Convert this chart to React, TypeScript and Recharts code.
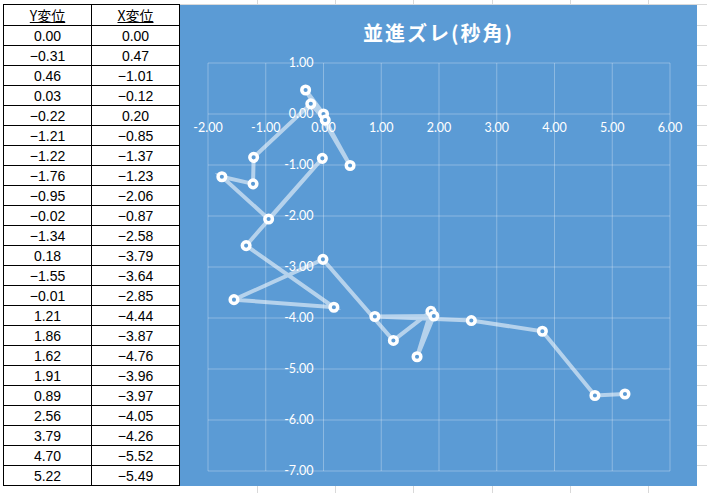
import React from "react";
import {
  CartesianGrid,
  ReferenceDot,
  Scatter,
  ScatterChart,
  XAxis,
  YAxis,
} from "recharts";

// 表の値（Y変位を横軸、X変位を縦軸に描く）
const yShift = [
  0.0, -0.31, 0.46, 0.03, -0.22, -1.21, -1.22, -1.76, -0.95, -0.02, -1.34, 0.18,
  -1.55, -0.01, 1.21, 1.86, 1.62, 1.91, 0.89, 2.56, 3.79, 4.7, 5.22,
];
const xShift = [
  0.0, 0.47, -1.01, -0.12, 0.2, -0.85, -1.37, -1.23, -2.06, -0.87, -2.58, -3.79,
  -3.64, -2.85, -4.44, -3.87, -4.76, -3.96, -3.97, -4.05, -4.26, -5.52, -5.49,
];
const xTicks = [-2, -1, 0, 1, 2, 3, 4, 5, 6];
const yTicks = [1, 0, -1, -2, -3, -4, -5, -6, -7];
const title = "並進ズレ(秒角)";
const headers = ["Y変位", "X変位"];

const points = yShift.map((x, i) => ({ x, y: xShift[i] }));

const BLUE = "#5B9BD5";
const fmt = (v: number) => v.toFixed(2);
const cellText = (v: number) => fmt(v).replace("-", "\u2212");

const sheetRows = Array.from({ length: 24 }, (_, i) => i);
const sheetCols = [257, 335, 413, 492, 570, 648];

const Marker = (props: any) => (
  <circle
    cx={props.cx}
    cy={props.cy}
    r={3.8}
    fill={BLUE}
    stroke="#ffffff"
    strokeWidth={3.5}
  />
);

const emptyTick = () => <g />;

const labelStyle = {
  fill: "#ffffff",
  fontSize: 12.5,
  fontFamily: "Lato, 'Open Sans', sans-serif",
};

const App = () => {
  return (
    <div
      style={{
        position: "absolute",
        left: 0,
        top: 0,
        width: 707,
        height: 493,
        background: "#ffffff",
        overflow: "hidden",
      }}
    >
      {/* シートの罫線 */}
      {sheetCols.map((c) => (
        <div
          key={"c" + c}
          style={{
            position: "absolute",
            left: c,
            top: 0,
            width: 1,
            height: 493,
            background: "#d9d9d9",
          }}
        />
      ))}
      {sheetRows.map((r) => (
        <div
          key={"r" + r}
          style={{
            position: "absolute",
            left: 180,
            top: 4 + (r === 0 ? 0 : 21 + (r - 1) * 20),
            width: 527,
            height: 1,
            background: "#d9d9d9",
          }}
        />
      ))}

      {/* 左の表 */}
      <table
        style={{
          position: "absolute",
          left: 3,
          top: 4,
          borderCollapse: "collapse",
          tableLayout: "fixed",
          background: "#ffffff",
          fontFamily: "'Liberation Sans', Arial, sans-serif",
          fontSize: 14,
          color: "#000",
        }}
      >
        <tbody>
          <tr style={{ height: 21 }}>
            {headers.map((h) => (
              <td
                key={h}
                style={{
                  width: 87,
                  border: "1px solid #000",
                  padding: 0,
                  textAlign: "center",
                  fontFamily: "'Noto Sans CJK JP', sans-serif",
                  textDecoration: "underline",
                  lineHeight: "19px",
                }}
              >
                {h}
              </td>
            ))}
          </tr>
          {yShift.map((v, i) => (
            <tr key={i} style={{ height: 20 }}>
              <td
                style={{
                  border: "1px solid #000",
                  padding: 0,
                  textAlign: "center",
                  lineHeight: "18px",
                }}
              >
                {cellText(v)}
              </td>
              <td
                style={{
                  border: "1px solid #000",
                  padding: 0,
                  textAlign: "center",
                  lineHeight: "18px",
                }}
              >
                {cellText(xShift[i])}
              </td>
            </tr>
          ))}
        </tbody>
      </table>

      {/* グラフ */}
      <div
        style={{
          position: "absolute",
          left: 180,
          top: 5,
          width: 517,
          height: 481,
          background: BLUE,
        }}
      >
        <div
          style={{
            position: "absolute",
            left: 0,
            top: 15,
            width: 517,
            textAlign: "center",
            color: "#ffffff",
            fontFamily: "'Noto Sans CJK JP', sans-serif",
            fontWeight: 700,
            fontSize: 20,
            letterSpacing: 2,
            lineHeight: "26px",
          }}
        >
          {title}
        </div>
        <ScatterChart
          width={517}
          height={481}
          margin={{ top: 58, right: 27, bottom: 15, left: 28 }}
          style={{ position: "absolute", left: 0, top: 0 }}
        >
          <CartesianGrid
            stroke="#ffffff"
            strokeOpacity={0.3}
            strokeWidth={1}
          />
          <XAxis
            type="number"
            dataKey="x"
            domain={[-2, 6]}
            ticks={xTicks}
            height={0}
            axisLine={false}
            tickLine={false}
            tick={emptyTick}
            allowDataOverflow
          />
          <YAxis
            type="number"
            dataKey="y"
            domain={[-7, 1]}
            ticks={yTicks}
            width={0}
            axisLine={false}
            tickLine={false}
            tick={emptyTick}
            allowDataOverflow
          />
          <Scatter
            data={points}
            isAnimationActive={false}
            line={{
              stroke: "#ffffff",
              strokeOpacity: 0.55,
              strokeWidth: 4,
            }}
            lineType="joint"
            shape={Marker}
          />
          {xTicks.map((t) => (
            <ReferenceDot
              key={"xl" + t}
              x={t}
              y={0}
              r={0}
              fill="none"
              stroke="none"
              label={{ value: fmt(t), position: "bottom", offset: 9, ...labelStyle }}
            />
          ))}
          {yTicks.map((t) => (
            <ReferenceDot
              key={"yl" + t}
              x={0}
              y={t}
              r={0}
              fill="none"
              stroke="none"
              label={{ value: fmt(t), position: "left", offset: 10, ...labelStyle }}
            />
          ))}
        </ScatterChart>
      </div>
    </div>
  );
};

export default App;
